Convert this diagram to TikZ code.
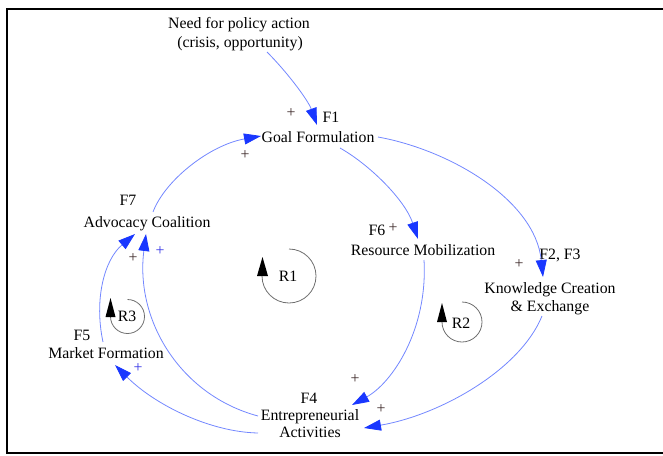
\documentclass[tikz,border=0pt]{standalone}
\usepackage{fontspec}
\setmainfont{Liberation Serif}
\usetikzlibrary{arrows.meta,calc}
\definecolor{lineblue}{RGB}{115,135,255}
\definecolor{headblue}{RGB}{25,55,255}
\definecolor{plusblue}{RGB}{50,50,230}
\definecolor{plusdark}{RGB}{60,40,40}
\definecolor{loopgray}{RGB}{110,110,110}
\begin{document}
\begin{tikzpicture}[x=1pt,y=-1pt,font=\fontsize{15.8}{19}\selectfont,
  lbl/.style={anchor=base,inner sep=0pt},
  plus/.style={inner sep=0pt,text=plusdark},
  bplus/.style={inner sep=0pt,text=plusblue},
  link/.style={draw=lineblue,line width=0.8pt,-{Triangle[length=17pt,width=11pt,color=headblue]}},
  loopc/.style={draw=loopgray,line width=0.8pt},
  loophead/.style={fill=black}]
\useasboundingbox (0,0) rectangle (663,455);
\draw[line width=2.3pt] (672,9) -- (7,9) -- (7,453) -- (672,453);
% text nodes
\node[lbl] (need1) at (239,28) {Need for policy action};
\node[lbl] (need2) at (240,47) {(crisis, opportunity)};
\node[lbl] (f1) at (331,122) {F1};
\node[lbl] (goal) at (318,142) {Goal Formulation};
\node[lbl] (f7) at (128,205) {F7};
\node[lbl] (adv) at (147,227) {Advocacy Coalition};
\node[lbl] (f6) at (377,235) {F6};
\node[lbl] (rm) at (423,255) {Resource Mobilization};
\node[lbl] (f23) at (560,259) {F2, F3};
\node[lbl] (ke1) at (550,293) {Knowledge Creation};
\node[lbl] (ke2) at (550,311) {\& Exchange};
\node[lbl] (f5) at (82,340) {F5};
\node[lbl] (mf) at (106,358) {Market Formation};
\node[lbl] (f4) at (309,403) {F4};
\node[lbl] (ent1) at (310,420) {Entrepreneurial};
\node[lbl] (ent2) at (310,437) {Activities};
% polarity signs
\node[plus] (p1) at (291,113) {+};
\node[plus] (p2) at (245,155) {+};
\node[plus] (p3) at (393,228) {+};
\node[plus] (p4) at (519,264) {+};
\node[plus] (p5) at (133,258) {+};
\node[plus] (p6) at (355,379) {+};
\node[plus] (p7) at (381,409) {+};
\node[bplus] (p8) at (160,251) {+};
\node[bplus] (p9) at (138,368) {+};
% links
\draw[link] ($(need2.base)+(27,5)$) .. controls +(20,20) and +(-9,-25) .. ($(goal.base)+(-1,-17)$);
\draw[link] ($(goal.base)+(60,-5)$) .. controls +(72,13) and +(-8,-77) .. ($(ke1.base)+(-7,-16)$);
\draw[link] ($(goal.base)+(22,6)$) .. controls +(30,17) and +(-13,-39) .. ($(rm.base)+(-5,-16)$);
\draw[link] ($(adv.base)+(6,-15)$) .. controls +(12,-32) and +(-51,9) .. ($(goal.base)+(-57,-6)$);
\draw[link] ($(rm.base)+(1,5)$) .. controls +(4,70) and +(40,-22) .. ($(ent1.base)+(42,-15)$);
\draw[link] ($(ke2.base)+(-8,5)$) .. controls +(-22,54) and +(76,-13) .. ($(ent2.base)+(54,-9)$);
\draw[link] ($(ent1.base)+(-52,-4)$) .. controls +(-78,-21) and +(-11,86) .. ($(adv.base)+(-1,7)$);
\draw[link] ($(mf.base)+(-3,-16)$) .. controls +(-9,-42) and +(-31,26) .. ($(adv.base)+(-12,7)$);
\draw[link] ($(ent2.base)+(-52,-4)$) .. controls +(-48,-1) and +(40,40) .. ($(mf.base)+(9,7)$);
% loop symbols
\node[lbl] (r1) at (288,281) {R1};
\draw[loopc] (289,249) arc[start angle=-90,end angle=180,radius=27];
\fill[loophead] (257,276) -- (262.5,257) -- (268,276) -- cycle;
\node[lbl] (r2) at (461,328) {R2};
\draw[loopc] (462,302) arc[start angle=-90,end angle=180,radius=20];
\fill[loophead] (437,322) -- (442,303) -- (447,322) -- cycle;
\node[lbl] (r3) at (127,321) {R3};
\draw[loopc] (127.5,299.5) arc[start angle=-90,end angle=180,radius=17];
\fill[loophead] (105.5,317) -- (110.5,298) -- (115.5,317) -- cycle;
\end{tikzpicture}
\end{document}
